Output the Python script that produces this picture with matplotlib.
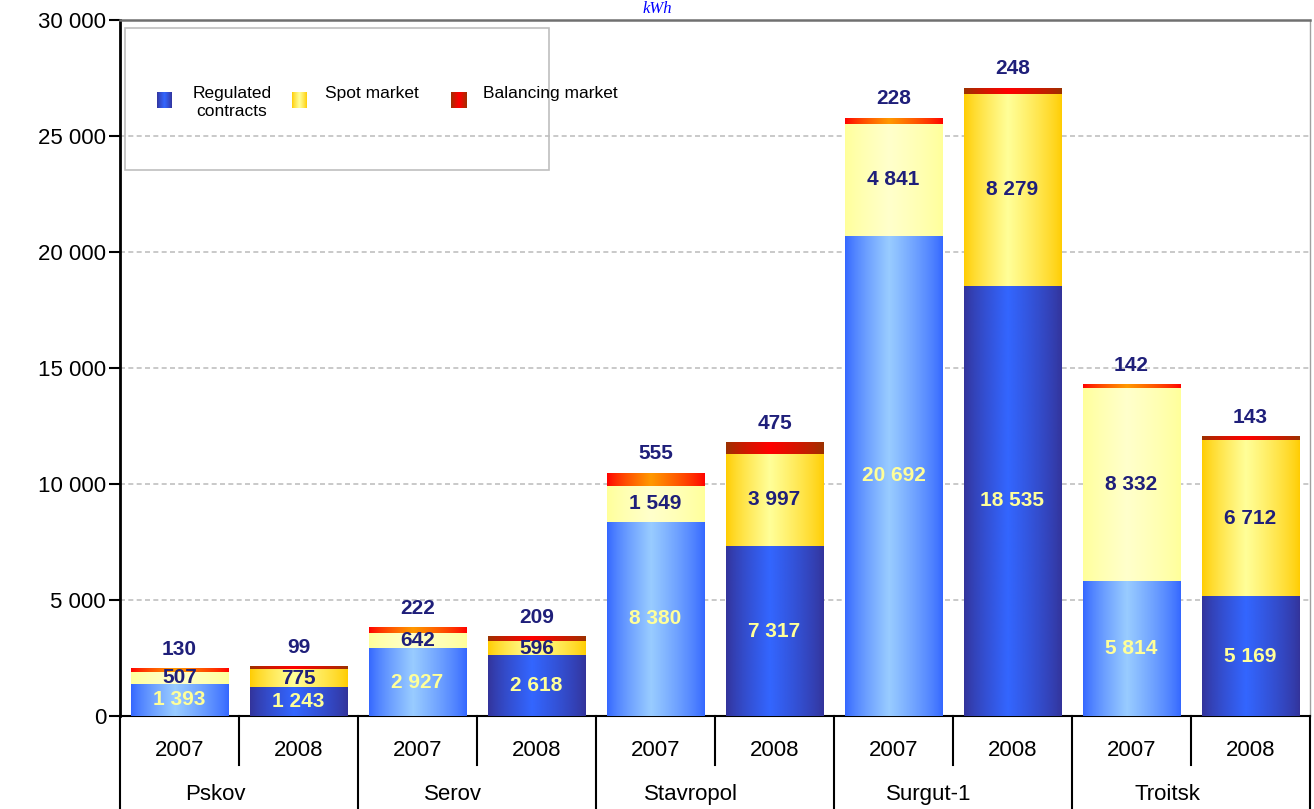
import numpy as np
import matplotlib
matplotlib.use('Agg')
import matplotlib.pyplot as plt
from matplotlib.colors import to_rgb
from matplotlib.patches import Rectangle

# ---------------- data ----------------
plants = ['Pskov', 'Serov', 'Stavropol', 'Surgut-1', 'Troitsk']
years = ['2007', '2008']
regulated = [1393, 1243, 2927, 2618, 8380, 7317, 20692, 18535, 5814, 5169]
spot = [507, 775, 642, 596, 1549, 3997, 4841, 8279, 8332, 6712]
balancing = [130, 99, 222, 209, 555, 475, 228, 248, 142, 143]
series_names = ['Regulated\ncontracts', 'Spot market', 'Balancing market']
yticks = [0, 5000, 10000, 15000, 20000, 25000, 30000]
unit = 'kWh'

plt.rcParams['font.family'] = ['Liberation Sans', 'DejaVu Sans']

W, H = 1314, 809
fig = plt.figure(figsize=(W / 100, H / 100), dpi=100)
ax = fig.add_axes([120 / W, 1 - 716 / H, 1190 / W, 696 / H])

# gradient (edge, centre) colours per series & year
grad = {
    ('reg', '2007'): ('#3366FF', '#99CCFF'),
    ('reg', '2008'): ('#333399', '#3366FF'),
    ('spot', '2007'): ('#FFFF99', '#FFFFCC'),
    ('spot', '2008'): ('#FFCC00', '#FFFF99'),
    ('bal', '2007'): ('#FF0000', '#FF9900'),
    ('bal', '2008'): ('#993300', '#FF0000'),
}


def gradient_img(edge, center, n=256, peak=0.45):
    e = np.array(to_rgb(edge))
    c = np.array(to_rgb(center))
    t = np.linspace(0, 1, n)
    w = np.where(t < peak, t / peak, (1 - t) / (1 - peak))
    w = np.clip(w, 0, 1) ** 0.8
    rgb = e[None, :] * (1 - w[:, None]) + c[None, :] * w[:, None]
    return rgb[None, :, :]


x = np.arange(len(regulated))
width = 0.82
bottom = np.zeros(len(regulated))
label_dark = '#1F1F7A'
fmt = lambda v: f"{v:,}".replace(',', ' ')

for key, vals in [('reg', regulated), ('spot', spot), ('bal', balancing)]:
    vals = np.array(vals, dtype=float)
    bars = ax.bar(x, vals, width, bottom=bottom, color='none',
                  edgecolor='none', zorder=3)
    for i, p in enumerate(bars):
        yr = years[i % 2]
        e, c = grad[(key, yr)]
        ax.imshow(gradient_img(e, c),
                  extent=(p.get_x(), p.get_x() + p.get_width(),
                          p.get_y(), p.get_y() + p.get_height()),
                  aspect='auto', zorder=3, interpolation='bilinear')
        if key == 'reg':
            ax.text(i, bottom[i] + vals[i] / 2, fmt(int(vals[i])),
                    ha='center', va='center', color='#FFFF99',
                    fontsize=15, fontweight='bold', zorder=5)
        elif key == 'spot':
            ax.text(i, bottom[i] + vals[i] / 2, fmt(int(vals[i])),
                    ha='center', va='center', color=label_dark,
                    fontsize=15, fontweight='bold', zorder=5)
        else:
            ax.annotate(fmt(int(vals[i])), xy=(i, bottom[i] + vals[i]),
                        xytext=(0, 14), textcoords='offset points',
                        ha='center', va='center', color=label_dark,
                        fontsize=15, fontweight='bold', zorder=5)
    bottom += vals

ax.set_xlim(-0.5, len(regulated) - 0.5)
ax.set_ylim(0, 30000)
ax.set_aspect('auto')

# y axis
ax.set_yticks(yticks)
ax.set_yticklabels([fmt(v) for v in yticks])
ax.tick_params(axis='y', direction='out', length=8, width=1.5,
               labelsize=16, pad=2, colors='black')
ax.yaxis.grid(True, linestyle=(0, (3, 2)), color='#C0C0C0', lw=1.2)
ax.set_axisbelow(True)
ax.set_xticks([])
ax.spines['left'].set_linewidth(2)
ax.spines['left'].set_color('black')
ax.spines['bottom'].set_linewidth(1.5)
ax.spines['bottom'].set_color('black')
ax.spines['top'].set_color('#707070')
ax.spines['top'].set_linewidth(1.8)
ax.spines['right'].set_color('#A0A0A0')
ax.spines['right'].set_linewidth(1)

# category axis (two levels)
xt = ax.get_xaxis_transform()
n = len(regulated)
for k in range(n + 1):
    xs = -0.5 + k
    ylow = -0.0704 if k % 2 == 1 else -0.14
    ax.plot([xs, xs], [0, ylow], transform=xt, color='black', lw=1.5,
            clip_on=False, zorder=6)
for i in range(n):
    ax.text(i, -0.049, years[i % 2], transform=xt, ha='center',
            va='center', fontsize=16)
for g, name in enumerate(plants):
    ax.text(2 * g + 0.5 - 0.2, -0.1135, name, transform=xt, ha='center',
            va='center', fontsize=16)

# legend (manual)
fig.patches.append(Rectangle((125 / W, 1 - 170 / H), 424 / W, 142 / H,
                             transform=fig.transFigure, fill=False,
                             edgecolor='#BFBFBF', lw=1.2))
leg_keys = [('reg', '2008'), ('spot', '2008'), ('bal', '2008')]
marker_x = [157, 292, 451]
text_x = [232, 325, 483]
for mx, tx, k, name in zip(marker_x, text_x, leg_keys, series_names):
    max_ = fig.add_axes([mx / W, 1 - 108 / H, 15 / W, 16 / H])
    e, c = grad[k]
    max_.imshow(gradient_img(e, c, peak=0.5), aspect='auto',
                interpolation='bilinear')
    max_.set_axis_off()
    if '\n' in name:
        fig.text(tx / W, 1 - 86 / H, name, ha='center', va='top',
                 fontsize=12.5, linespacing=1.25, multialignment='center')
    else:
        fig.text(tx / W, 1 - 86 / H, name, ha='left', va='top',
                 fontsize=12.5)

fig.text(657 / W, 1 - 1 / H, unit, ha='center', va='top',
         color='#0000FF', fontsize=12, style='italic',
         family=['Liberation Serif', 'DejaVu Serif'])

fig.savefig('out.png', dpi=100)
